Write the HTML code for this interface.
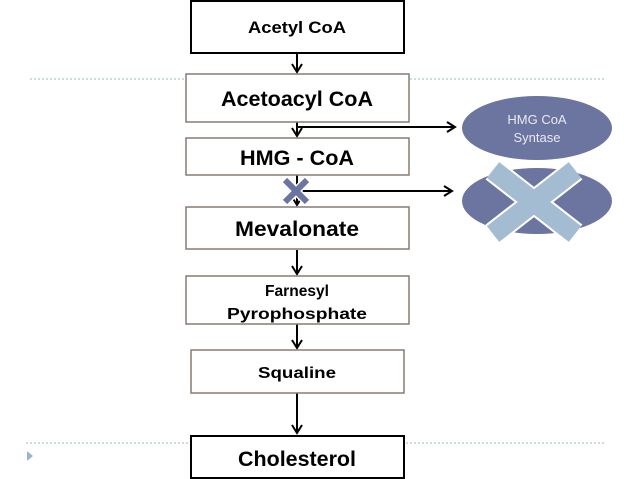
<!DOCTYPE html>
<html><head><style>
html,body{margin:0;padding:0;background:#fff;width:638px;height:479px;overflow:hidden}
svg{display:block}
text{font-family:"Liberation Sans",sans-serif;font-weight:bold;text-anchor:middle;fill:#000}
</style></head><body>
<svg width="638" height="479" viewBox="0 0 638 479">
<defs><marker id="a" markerWidth="12" markerHeight="12" refX="9" refY="6" orient="auto" markerUnits="userSpaceOnUse"><path d="M1,1 L9,6 L1,11" fill="none" stroke="#000" stroke-width="2"/></marker></defs>
<line x1="30" y1="79" x2="605" y2="79" stroke="#9bb" stroke-width="1" stroke-dasharray="2,2"/>
<line x1="26" y1="443" x2="605" y2="443" stroke="#9bb" stroke-width="1" stroke-dasharray="2,2"/>
<path d="M27,451 L33,456 L27,461Z" fill="#9ab4c8"/>
<g stroke="#000" stroke-width="2" fill="none" marker-end="url(#a)">
<line x1="297" y1="53" x2="297" y2="72"/>
<line x1="297" y1="122" x2="297" y2="136"/>
<line x1="297" y1="175" x2="297" y2="205"/>
<line x1="297" y1="250" x2="297" y2="274"/>
<line x1="297" y1="324" x2="297" y2="348"/>
<line x1="297" y1="393" x2="297" y2="433"/>
<line x1="298" y1="127" x2="455" y2="127"/>
<line x1="298" y1="191" x2="452" y2="191"/>
</g>
<rect x="191" y="1" width="213" height="52" fill="#fff" stroke="#000" stroke-width="2"/>
<text x="297" y="33" font-size="17" textLength="98" lengthAdjust="spacingAndGlyphs">Acetyl CoA</text>
<rect x="186" y="74" width="223" height="48" fill="#fff" stroke="#8a7a75" stroke-width="1.5"/>
<text x="297" y="106" font-size="21" textLength="152" lengthAdjust="spacingAndGlyphs">Acetoacyl CoA</text>
<rect x="186" y="138" width="223" height="37" fill="#fff" stroke="#8a7a75" stroke-width="1.5"/>
<text x="297" y="165" font-size="21" textLength="114" lengthAdjust="spacingAndGlyphs">HMG - CoA</text>
<rect x="186" y="207" width="223" height="42" fill="#fff" stroke="#8a7a75" stroke-width="1.5"/>
<text x="297" y="236" font-size="21" textLength="124" lengthAdjust="spacingAndGlyphs">Mevalonate</text>
<rect x="186" y="276" width="223" height="48" fill="#fff" stroke="#8a7a75" stroke-width="1.5"/>
<text x="297" y="296" font-size="16" textLength="64" lengthAdjust="spacingAndGlyphs">Farnesyl</text>
<text x="297" y="319" font-size="16" textLength="140" lengthAdjust="spacingAndGlyphs">Pyrophosphate</text>
<rect x="191" y="350" width="213" height="43" fill="#fff" stroke="#8a7a75" stroke-width="1.5"/>
<text x="297" y="378" font-size="16" textLength="78" lengthAdjust="spacingAndGlyphs">Squaline</text>
<rect x="191" y="436" width="213" height="42" fill="#fff" stroke="#000" stroke-width="2"/>
<text x="297" y="466" font-size="21" textLength="118" lengthAdjust="spacingAndGlyphs">Cholesterol</text>
<ellipse cx="537" cy="128" rx="75" ry="32" fill="#6c74a0"/>
<text x="537" y="124" font-size="13" style="font-weight:normal;fill:#e8eaf4">HMG CoA</text>
<text x="537" y="142" font-size="13" style="font-weight:normal;fill:#e8eaf4">Syntase</text>
<ellipse cx="537" cy="201" rx="75" ry="33" fill="#6c74a0"/>
<g stroke="#fff" stroke-width="24" stroke-linecap="butt"><line x1="493" y1="170" x2="575" y2="234"/><line x1="575" y1="170" x2="493" y2="234"/></g>
<g stroke="#a3bcd1" stroke-width="20"><line x1="493" y1="170" x2="575" y2="234"/><line x1="575" y1="170" x2="493" y2="234"/></g>
<g stroke="#fff" stroke-width="9"><line x1="284" y1="179" x2="308" y2="203"/><line x1="308" y1="179" x2="284" y2="203"/></g>
<g stroke="#6c74a0" stroke-width="6"><line x1="285" y1="180" x2="307" y2="202"/><line x1="307" y1="180" x2="285" y2="202"/></g>
</svg>
</body></html>
